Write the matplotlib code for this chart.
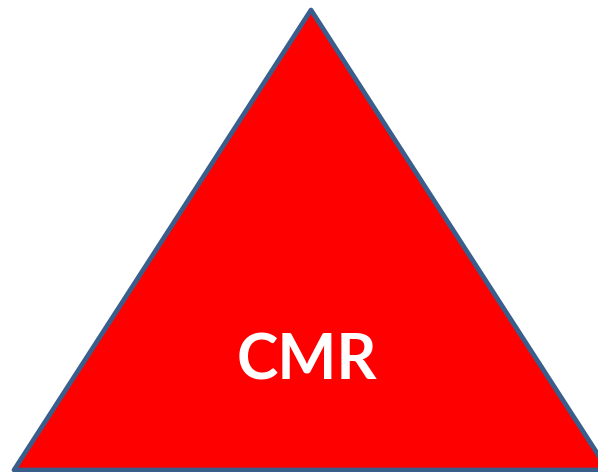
import matplotlib
matplotlib.use('Agg')
from matplotlib import pyplot as plt
from matplotlib.patches import Polygon

# triangle corners in pixel space (x, y from top)
xs = [311, 14, 608]
ys = [10, 470, 470]
label = 'CMR'

fig = plt.figure(figsize=(5.98, 4.72), dpi=100)
ax = fig.add_axes([0, 0, 1, 1])
ax.set_xlim(0, 598)
ax.set_ylim(472, 0)
ax.axis('off')

tri = Polygon(list(zip(xs, ys)), closed=True, facecolor='#FF0000',
              edgecolor='#3A5E8C', linewidth=3.4, joinstyle='round')
ax.add_patch(tri)

ax.text(307, 361, label, color='white', fontsize=45, fontweight='bold',
        family='Lato', ha='center', va='center')

fig.savefig('out.png', dpi=100)
